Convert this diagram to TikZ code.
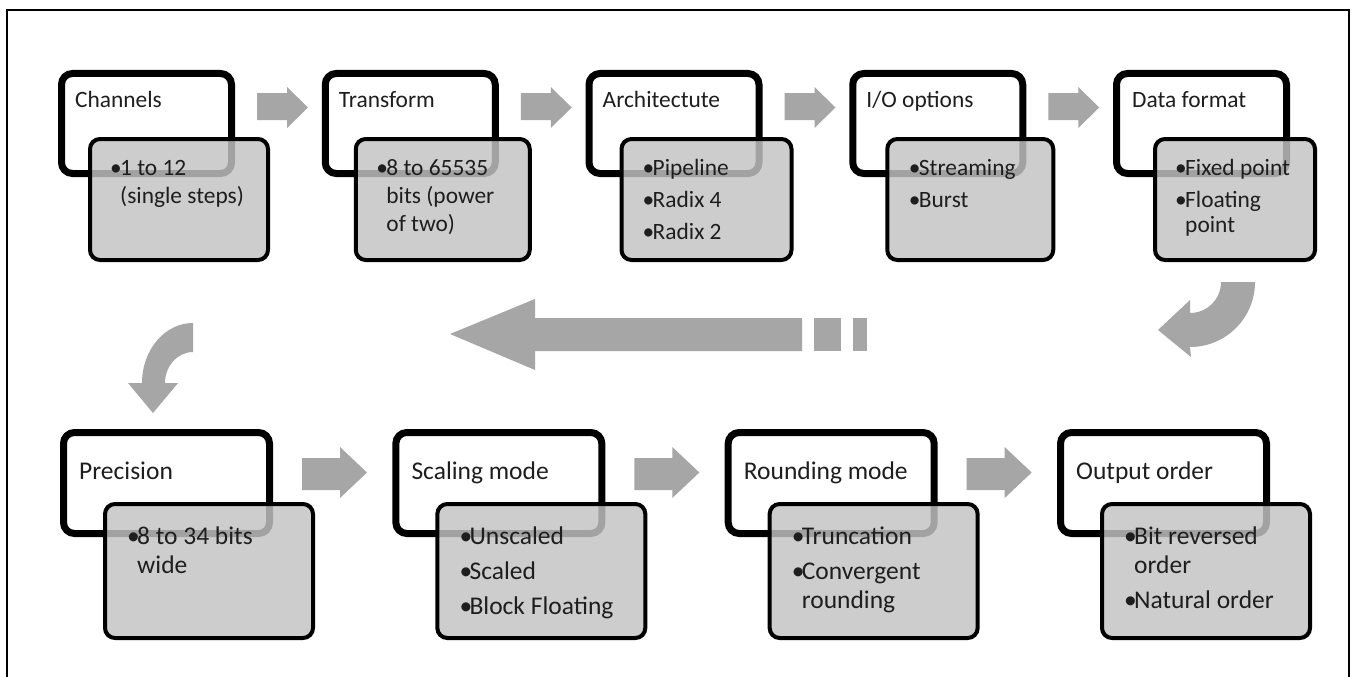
\documentclass[tikz,border=0pt]{standalone}
\usepackage{fontspec}
\setmainfont{Carlito}
\usetikzlibrary{shadows}
\definecolor{arr}{HTML}{A6A6A6}
\definecolor{gfill}{HTML}{C4C4C4}
\definecolor{txt}{HTML}{1E1E1E}
\newcommand{\bul}{\makebox[10pt][l]{•}}
\begin{document}
\begin{tikzpicture}[x=1pt,y=-1pt,
  wbox/.style={draw=black, line width=7pt, fill=white, rounded corners=11pt, inner sep=0pt, outer sep=0pt,
     minimum width=170pt, minimum height=100pt,
     drop shadow={shadow xshift=2pt,shadow yshift=-3pt,opacity=0.18}},
  wboxb/.style={wbox, minimum width=206pt, minimum height=101pt},
  gbox/.style={draw=black, line width=4pt, fill=gfill, fill opacity=0.83, draw opacity=1,
     rounded corners=10pt, inner sep=0pt, outer sep=0pt, minimum height=121pt},
  gboxb/.style={gbox, minimum width=208pt, minimum height=134pt},
  ttl/.style={anchor=base west, inner sep=0pt, text=txt, font=\fontsize{23.4}{25}\selectfont},
  ttlb/.style={ttl, font=\fontsize{25.5}{29}\selectfont},
  btxt/.style={anchor=base west, inner sep=0pt, align=left, text=txt, font=\fontsize{23.4}{25}\selectfont},
  btxtw/.style={btxt, font=\fontsize{23.4}{28}\selectfont},
  btxtb/.style={btxt, font=\fontsize{25.5}{29}\selectfont},
  blk/.style={fill=arr, draw=none}
]
\useasboundingbox (0,0) rectangle (1352,677);
\fill[white] (0,0) rectangle (1352,677);
% frame
\draw[line width=2pt, black] (7,677) -- (7,10) -- (1349,10) -- (1349,677);

% ---------- top row ----------
\node[wbox] (w1) at (146.5,123.5) {};
\node[wbox] (w2) at (410.25,123.5) {};
\node[wbox] (w3) at (674.0,123.5) {};
\node[wbox] (w4) at (937.75,123.5) {};
\node[wbox] (w5) at (1201.5,123.5) {};
\node[gbox, minimum width=178pt] (g1) at (179,199.5) {};
\node[gbox, minimum width=174pt] (g2) at (442.75,199.5) {};
\node[gbox, minimum width=170pt] (g3) at (706.5,199.5) {};
\node[gbox, minimum width=166pt] (g4) at (970.25,199.5) {};
\node[gbox, minimum width=160pt] (g5) at (1235,199.5) {};
\node[ttl] (t1) at (75,107) {Channels};
\node[ttl] (t2) at (338.75,107) {Transform};
\node[ttl] (t3) at (602.5,107) {Architectute};
\node[ttl] (t4) at (866.25,107) {I/O options};
\node[ttl] (t5) at (1132,107) {Data format};
% bullets (base anchor = baseline of the last line)
\node[btxtw] (b1) at (110,203) {\bul 1 to 12\\\phantom{\bul}(single steps)};
\node[btxtw] (b2) at (376.25,231) {\bul 8 to 65535\\\phantom{\bul}bits (power\\\phantom{\bul}of two)};
\node[btxt] (b3) at (642.5,239) {\bul Pipeline\\[7pt]\bul Radix 4\\[7pt]\bul Radix 2};
\node[btxt] (b4) at (908.75,207) {\bul Streaming\\[7pt]\bul Burst};
\node[btxt] (b5) at (1175,232) {\bul Fixed point\\[7pt]\bul Floating\\\phantom{\bul}point};
\foreach \i in {0,...,3}{
  \pgfmathsetmacro\xa{257+263.75*\i}
  \fill[blk] (\xa,93) -- ++(30,0) -- ++(0,-6) -- ++(21,20.5) -- ++(-21,20.5) -- ++(0,-8) -- ++(-30,0) -- cycle;
}

% ---------- turn arrows ----------
\fill[blk] (1255,282) arc[start angle=0, end angle=90, radius=65]
   -- (1191,357) -- (1158,330) -- (1190,300) -- (1190,313)
   arc[start angle=90, end angle=0, radius=31] -- cycle;
\fill[blk] (450,334) -- (535,299) -- (535,318) -- (802,318) -- (802,351) -- (535,351) -- (535,370) -- cycle;
\fill[blk] (814,318) rectangle (841,351);
\fill[blk] (853,318) rectangle (867,351);
\fill[blk] (193,323) arc[start angle=-90, end angle=-180, x radius=51, y radius=60]
   -- (128,383) -- (153,413) -- (178,383) -- (165,383)
   arc[start angle=-180, end angle=-90, x radius=28, y radius=31] -- cycle;

% ---------- bottom row ----------
\node[wboxb] (w6) at (166.5,483) {};
\node[wboxb] (w7) at (498.83,483) {};
\node[wboxb] (w8) at (831.17,483) {};
\node[wboxb] (w9) at (1163.5,483) {};
\node[gboxb] (g6) at (209,571) {};
\node[gboxb] (g7) at (541.33,571) {};
\node[gboxb] (g8) at (873.67,571) {};
\node[gboxb] (g9) at (1206,571) {};
\node[ttlb] (t6) at (79,479) {Precision};
\node[ttlb] (t7) at (411.33,479) {Scaling mode};
\node[ttlb] (t8) at (743.67,479) {Rounding mode};
\node[ttlb] (t9) at (1076,479) {Output order};
\node[btxtb] (b6) at (127,573) {\bul 8 to 34 bits\\\phantom{\bul}wide};
\node[btxtb] (b7) at (459.33,614) {\bul Unscaled\\[6pt]\bul Scaled\\[6pt]\bul Block Floating};
\node[btxtb] (b8) at (791.67,608) {\bul Truncation\\[6pt]\bul Convergent\\\phantom{\bul}rounding};
\node[btxtb] (b9) at (1124,608) {\bul Bit reversed\\\phantom{\bul}order\\[6pt]\bul Natural order};
\foreach \i in {0,...,2}{
  \pgfmathsetmacro\xa{302+332.33*\i}
  \fill[blk] (\xa,458) -- ++(38,0) -- ++(0,-11) -- ++(27,25.5) -- ++(-27,25.5) -- ++(0,-8) -- ++(-38,0) -- cycle;
}
\end{tikzpicture}
\end{document}
